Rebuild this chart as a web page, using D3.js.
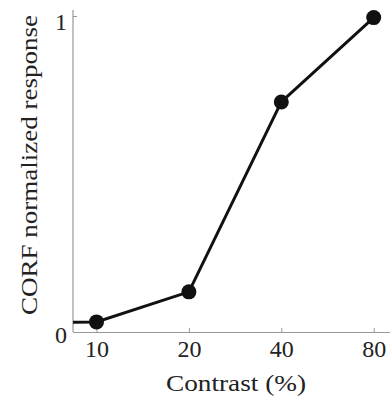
<!DOCTYPE html>
<html><head><meta charset="utf-8">
<script src="https://cdn.jsdelivr.net/npm/d3@7"></script>
<style>body{margin:0;background:#fff}</style>
</head><body>
<svg id="c" width="390" height="404"></svg>
<script>
const contrast = [5, 10, 20, 40, 80];
const response = [0.028, 0.032, 0.127, 0.728, 0.995];
const xTicks = [10, 20, 40, 80];
const yTicks = [0, 1];

const svg = d3.select("#c");
const L = 73, R = 390, T = 10, B = 332;
const x = d3.scaleLog().base(2).domain([10 * Math.pow(2, -23.5 / 92.4), 10 * Math.pow(2, 293.5 / 92.4)]).range([L, R]);
const y = d3.scaleLinear().domain([0, 1]).range([B, 16]);
const font = "'Liberation Serif', 'DejaVu Serif', serif";

svg.append("defs").append("clipPath").attr("id", "clip")
  .append("rect").attr("x", L).attr("y", 0).attr("width", R - L).attr("height", B);

// axes
const xa = svg.append("g").attr("transform", `translate(0,${B})`)
  .call(d3.axisBottom(x).tickValues(xTicks).tickSizeInner(-4).tickSizeOuter(0).tickPadding(10).tickFormat(d3.format("d")));
const ya = svg.append("g").attr("transform", `translate(${L},0)`)
  .call(d3.axisLeft(y).tickValues(yTicks).tickSizeInner(-4).tickSizeOuter(0).tickPadding(6).tickFormat(d3.format("d")));
ya.select(".domain").attr("d", `M0,${T}V${B}`);
[xa, ya].forEach(g => {
  g.select(".domain").attr("stroke", "#999").attr("stroke-width", 1.2);
  g.selectAll(".tick line").attr("stroke", "#999");
  g.selectAll(".tick text").attr("font-family", font).attr("font-size", 24).attr("fill", "#222");
});
xa.selectAll(".tick text").attr("y", 25).attr("dy", 0);
ya.selectAll(".tick text").attr("dy", d => d === 0 ? "0.45em" : "0.55em");

// line and points
const g = svg.append("g").attr("clip-path", "url(#clip)");
g.append("path").datum(contrast.map((c, i) => [c, response[i]]))
  .attr("fill", "none").attr("stroke", "#111").attr("stroke-width", 3)
  .attr("d", d3.line().x(d => x(d[0])).y(d => y(d[1])));
svg.append("g").selectAll("circle").data(contrast.map((c, i) => [c, response[i]]).filter(d => d[0] >= 10))
  .join("circle").attr("cx", d => x(d[0])).attr("cy", d => y(d[1])).attr("r", 7.5).attr("fill", "#111");

// titles
svg.append("text").attr("x", 166).attr("y", 391)
  .attr("textLength", 140).attr("lengthAdjust", "spacingAndGlyphs")
  .attr("font-family", font).attr("font-size", 24).attr("fill", "#222").text("Contrast (%)");
svg.append("text").attr("transform", "translate(37,315) rotate(-90)")
  .attr("textLength", 300).attr("lengthAdjust", "spacingAndGlyphs")
  .attr("font-family", font).attr("font-size", 24).attr("fill", "#222").text("CORF normalized response");
</script>
</body></html>
